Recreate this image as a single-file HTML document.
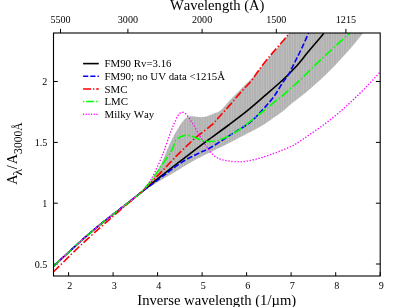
<!DOCTYPE html>
<html><head><meta charset="utf-8"><title>Extinction curves</title>
<style>html,body{margin:0;padding:0;background:#fff;}body{width:395px;height:307px;overflow:hidden;font-family:"Liberation Serif",serif;}</style></head>
<body>
<div style="will-change:transform;width:395px;height:307px">
<svg width="395" height="307" viewBox="0 0 395 307" style="display:block">
<defs><linearGradient id="hg" x1="0" y1="0" x2="1" y2="0"><stop offset="0" stop-color="#ababab"/><stop offset="0.5" stop-color="#c0c0c0"/><stop offset="1" stop-color="#ababab"/></linearGradient><pattern id="hs" width="2.5" height="8" patternUnits="userSpaceOnUse"><rect width="2.5" height="8" fill="url(#hg)"/></pattern>
<clipPath id="cp"><rect x="53.5" y="33.0" width="326.7" height="243.0"/></clipPath></defs>
<rect width="395" height="307" fill="#fff"/>
<g stroke="#000" stroke-width="1" fill="none">
<path d="M68.6 276.0 V272.2"/>
<path d="M113.1 276.0 V272.2"/>
<path d="M157.6 276.0 V272.2"/>
<path d="M202.1 276.0 V272.2"/>
<path d="M246.6 276.0 V272.2"/>
<path d="M291.1 276.0 V272.2"/>
<path d="M335.7 276.0 V272.2"/>
<path d="M380.2 276.0 V272.2"/>
<path d="M60.5 33.0 V28.9"/>
<path d="M127.9 33.0 V28.9"/>
<path d="M202.1 33.0 V28.9"/>
<path d="M276.3 33.0 V28.9"/>
<path d="M345.9 33.0 V28.9"/>
<path d="M53.5 264.0 H57.8"/>
<path d="M380.2 264.0 H375.9"/>
<path d="M53.5 203.2 H57.8"/>
<path d="M380.2 203.2 H375.9"/>
<path d="M53.5 142.4 H57.8"/>
<path d="M380.2 142.4 H375.9"/>
<path d="M53.5 81.5 H57.8"/>
<path d="M380.2 81.5 H375.9"/>
</g>
<g clip-path="url(#cp)" fill="none" stroke-linecap="butt" stroke-linejoin="round">
<path d="M141.00 192.50 C142.67 190.58 147.47 186.17 151.00 181.00 C154.53 175.83 159.42 166.92 162.20 161.50 C164.98 156.08 165.87 152.58 167.70 148.50 C169.53 144.42 171.33 140.58 173.20 137.00 C175.07 133.42 177.32 129.57 178.90 127.00 C180.48 124.43 181.53 123.10 182.70 121.60 C183.87 120.10 184.85 118.85 185.90 118.00 C186.95 117.15 187.73 116.80 189.00 116.50 C190.27 116.20 191.92 116.10 193.50 116.20 C195.08 116.30 196.92 116.95 198.50 117.10 C200.08 117.25 201.42 117.30 203.00 117.10 C204.58 116.90 206.10 116.53 208.00 115.90 C209.90 115.27 212.33 114.18 214.40 113.30 C216.47 112.42 217.67 112.95 220.40 110.60 C223.13 108.25 227.33 102.84 230.80 99.20 C234.28 95.56 237.77 92.23 241.25 88.75 C244.73 85.27 248.81 81.36 251.70 78.30 C254.59 75.24 255.55 74.03 258.60 70.40 C261.65 66.77 265.87 61.40 270.00 56.50 C274.13 51.60 280.15 44.92 283.40 41.00 C286.65 37.08 288.48 34.33 289.50 33.00 L363.20 33.00 C362.67 33.65 362.65 33.72 360.00 36.90 C357.35 40.08 351.55 47.25 347.30 52.10 C343.05 56.95 338.80 61.55 334.50 66.00 C330.20 70.45 325.83 74.77 321.50 78.80 C317.17 82.83 312.08 87.17 308.50 90.20 C304.92 93.23 303.03 94.58 300.00 97.00 C296.97 99.42 293.10 102.37 290.30 104.70 C287.50 107.03 287.33 107.88 283.20 111.00 C279.07 114.12 270.63 120.07 265.50 123.40 C260.37 126.73 255.82 129.12 252.40 131.00 C248.98 132.88 250.40 131.93 245.00 134.70 C239.60 137.47 228.33 143.37 220.00 147.60 C211.67 151.83 201.67 156.55 195.00 160.10 C188.33 163.65 185.83 165.45 180.00 168.90 C174.17 172.35 166.50 176.87 160.00 180.80 C153.50 184.73 144.17 190.55 141.00 192.50 Z" fill="url(#hs)" stroke="none"/>
<path d="M53.50 266.30 C55.42 264.52 61.42 258.92 65.00 255.60 C68.58 252.28 71.67 249.43 75.00 246.40 C78.33 243.37 81.67 240.32 85.00 237.40 C88.33 234.48 91.67 231.68 95.00 228.90 C98.33 226.12 101.67 223.38 105.00 220.70 C108.33 218.02 111.67 215.40 115.00 212.80 C118.33 210.20 121.67 207.68 125.00 205.10 C128.33 202.52 132.33 199.40 135.00 197.30 C137.67 195.20 136.83 195.88 141.00 192.50 C145.17 189.12 153.50 182.18 160.00 177.00 C166.50 171.82 174.17 165.92 180.00 161.40 C185.83 156.88 190.12 153.60 195.00 149.90 C199.88 146.20 203.70 143.35 209.30 139.20 C214.90 135.05 222.20 129.82 228.60 125.00 C235.00 120.18 241.55 115.28 247.70 110.30 C253.85 105.32 259.67 100.15 265.50 95.10 C271.33 90.05 277.72 84.63 282.70 80.00 C287.68 75.37 291.18 71.95 295.40 67.30 C299.62 62.65 303.77 57.17 308.00 52.10 C312.23 47.03 318.17 40.08 320.80 36.90 C323.43 33.72 323.30 33.65 323.80 33.00" stroke="#000" stroke-width="1.6"/>
<path d="M53.50 266.30 C55.42 264.52 61.42 258.92 65.00 255.60 C68.58 252.28 71.67 249.43 75.00 246.40 C78.33 243.37 81.67 240.32 85.00 237.40 C88.33 234.48 91.67 231.68 95.00 228.90 C98.33 226.12 101.67 223.38 105.00 220.70 C108.33 218.02 111.67 215.40 115.00 212.80 C118.33 210.20 121.67 207.68 125.00 205.10 C128.33 202.52 132.33 199.40 135.00 197.30 C137.67 195.20 136.83 195.67 141.00 192.50 C145.17 189.33 154.83 182.18 160.00 178.30 C165.17 174.42 167.83 172.22 172.00 169.20 C176.17 166.18 180.58 162.83 185.00 160.20 C189.42 157.57 194.00 155.65 198.50 153.40 C203.00 151.15 206.25 150.05 212.00 146.70 C217.75 143.35 227.05 137.05 233.00 133.30 C238.95 129.55 243.77 127.03 247.70 124.20 C251.63 121.37 253.63 119.23 256.60 116.30 C259.57 113.37 262.55 109.98 265.50 106.60 C268.45 103.22 271.43 100.00 274.30 96.00 C277.17 92.00 280.25 86.32 282.70 82.60 C285.15 78.88 286.88 77.30 289.00 73.70 C291.12 70.10 293.28 65.23 295.40 61.00 C297.52 56.77 299.50 52.97 301.70 48.30 C303.90 43.63 307.45 35.55 308.60 33.00" stroke="#0000ff" stroke-width="1.6" stroke-dasharray="5.6 2.2"/>
<path d="M53.50 271.80 C55.42 269.92 60.42 264.97 65.00 260.50 C69.58 256.03 75.25 250.38 81.00 245.00 C86.75 239.62 94.13 233.00 99.50 228.20 C104.87 223.40 108.95 219.90 113.20 216.20 C117.45 212.50 121.37 209.10 125.00 206.00 C128.63 202.90 132.33 199.85 135.00 197.60 C137.67 195.35 138.08 195.27 141.00 192.50 C143.92 189.73 149.38 184.15 152.50 181.00 C155.62 177.85 157.17 176.23 159.70 173.60 C162.23 170.97 164.98 168.07 167.70 165.20 C170.42 162.33 173.12 159.33 176.00 156.40 C178.88 153.47 181.52 150.90 185.00 147.60 C188.48 144.30 192.48 140.33 196.90 136.60 C201.32 132.87 207.65 128.63 211.50 125.20 C215.35 121.77 216.92 119.38 220.00 116.00 C223.08 112.62 226.57 108.83 230.00 104.90 C233.43 100.97 237.05 96.40 240.60 92.40 C244.15 88.40 248.30 84.57 251.30 80.90 C254.30 77.23 255.48 74.57 258.60 70.40 C261.72 66.23 265.87 60.88 270.00 55.90 C274.13 50.92 280.15 44.32 283.40 40.50 C286.65 36.68 288.48 34.25 289.50 33.00" stroke="#ff0000" stroke-width="1.6" stroke-dasharray="8.2 2.2 1.4 2.2"/>
<path d="M53.50 266.30 C55.42 264.52 61.42 258.92 65.00 255.60 C68.58 252.28 71.67 249.43 75.00 246.40 C78.33 243.37 81.67 240.32 85.00 237.40 C88.33 234.48 91.67 231.68 95.00 228.90 C98.33 226.12 101.67 223.38 105.00 220.70 C108.33 218.02 111.67 215.40 115.00 212.80 C118.33 210.20 121.67 207.68 125.00 205.10 C128.33 202.52 132.33 199.40 135.00 197.30 C137.67 195.20 138.67 194.80 141.00 192.50 C143.33 190.20 146.40 186.75 149.00 183.50 C151.60 180.25 154.10 176.58 156.60 173.00 C159.10 169.42 161.43 165.83 164.00 162.00 C166.57 158.17 170.00 153.63 172.00 150.00 C174.00 146.37 173.95 142.62 176.00 140.20 C178.05 137.78 181.53 136.10 184.30 135.50 C187.07 134.90 189.37 135.68 192.60 136.60 C195.83 137.52 200.00 140.23 203.70 141.00 C207.40 141.77 211.46 141.65 214.80 141.20 C218.14 140.75 221.22 139.33 223.75 138.30 C226.28 137.27 227.29 136.48 230.00 135.00 C232.71 133.52 237.05 131.33 240.00 129.40 C242.95 127.47 244.93 125.58 247.70 123.40 C250.47 121.22 253.63 118.65 256.60 116.30 C259.57 113.95 262.55 111.65 265.50 109.30 C268.45 106.95 271.35 104.57 274.30 102.20 C277.25 99.83 280.25 97.62 283.20 95.10 C286.15 92.58 289.35 89.47 292.00 87.10 C294.65 84.73 294.30 85.47 299.10 80.90 C303.90 76.33 312.75 67.33 320.80 59.70 C328.85 52.07 342.62 39.55 347.40 35.10 C352.18 30.65 349.15 33.35 349.50 33.00" stroke="#00ff00" stroke-width="1.6" stroke-dasharray="9 2.3 1.4 2.3"/>
<path d="M53.50 266.30 C55.42 264.52 61.42 258.92 65.00 255.60 C68.58 252.28 71.67 249.43 75.00 246.40 C78.33 243.37 81.67 240.32 85.00 237.40 C88.33 234.48 91.67 231.68 95.00 228.90 C98.33 226.12 101.67 223.38 105.00 220.70 C108.33 218.02 111.67 215.40 115.00 212.80 C118.33 210.20 121.67 207.68 125.00 205.10 C128.33 202.52 132.33 199.40 135.00 197.30 C137.67 195.20 138.55 195.13 141.00 192.50 C143.45 189.87 147.10 185.50 149.70 181.50 C152.30 177.50 154.52 172.83 156.60 168.50 C158.68 164.17 160.90 158.58 162.20 155.50 C163.50 152.42 163.35 152.92 164.40 150.00 C165.45 147.08 167.15 141.78 168.50 138.00 C169.85 134.22 171.40 130.03 172.50 127.30 C173.60 124.57 174.25 123.45 175.10 121.60 C175.95 119.75 176.80 117.58 177.60 116.20 C178.40 114.82 179.12 113.95 179.90 113.30 C180.68 112.65 181.45 112.33 182.30 112.30 C183.15 112.27 184.13 112.50 185.00 113.10 C185.87 113.70 186.77 115.02 187.50 115.90 C188.23 116.78 188.83 117.57 189.40 118.40 C189.97 119.23 190.33 120.05 190.90 120.90 C191.47 121.75 192.17 122.55 192.80 123.50 C193.43 124.45 194.02 125.33 194.70 126.60 C195.38 127.87 196.20 129.82 196.90 131.10 C197.60 132.38 198.20 133.15 198.90 134.30 C199.60 135.45 200.08 136.38 201.10 138.00 C202.12 139.62 203.65 141.97 205.00 144.00 C206.35 146.03 207.82 148.37 209.20 150.20 C210.58 152.03 211.92 153.72 213.30 155.00 C214.68 156.28 216.10 157.13 217.50 157.90 C218.90 158.67 219.93 159.10 221.70 159.60 C223.47 160.10 225.68 160.53 228.10 160.90 C230.52 161.27 233.50 161.72 236.20 161.80 C238.90 161.88 241.60 161.70 244.30 161.40 C247.00 161.10 249.70 160.58 252.40 160.00 C255.10 159.42 257.80 158.68 260.50 157.90 C263.20 157.12 265.90 156.23 268.60 155.30 C271.30 154.37 274.00 153.32 276.70 152.30 C279.40 151.28 282.10 150.32 284.80 149.20 C287.50 148.08 290.37 146.93 292.90 145.60 C295.43 144.27 297.20 143.05 300.00 141.20 C302.80 139.35 305.65 137.32 309.70 134.50 C313.75 131.68 319.42 127.95 324.30 124.30 C329.18 120.65 334.10 116.78 339.00 112.60 C343.90 108.42 348.82 103.83 353.70 99.20 C358.58 94.57 364.03 89.17 368.30 84.80 C372.57 80.43 377.18 75.27 379.30 73.00 C381.42 70.73 380.72 71.50 381.00 71.20" stroke="#ff00ff" stroke-width="1.5" stroke-linecap="round" stroke-dasharray="0.01 3.03"/>
</g>
<rect x="53.5" y="33.0" width="326.7" height="243.0" stroke="#000" stroke-width="1.1" fill="none"/>
<g font-family="'Liberation Serif', serif" fill="#000" style="font-kerning:none">
<g font-size="10.1px" text-anchor="middle">
<text x="69.7" y="288.8">2</text>
<text x="114.2" y="288.8">3</text>
<text x="158.7" y="288.8">4</text>
<text x="203.2" y="288.8">5</text>
<text x="247.7" y="288.8">6</text>
<text x="292.2" y="288.8">7</text>
<text x="336.8" y="288.8">8</text>
<text x="381.3" y="288.8">9</text>
<text x="60.5" y="23.2">5500</text>
<text x="127.9" y="23.2">3000</text>
<text x="202.1" y="23.2">2000</text>
<text x="276.3" y="23.2">1500</text>
<text x="345.9" y="23.2">1215</text>
</g><g font-size="10.1px" text-anchor="end">
<text x="47.3" y="267.5">0.5</text>
<text x="47.3" y="206.7">1</text>
<text x="47.3" y="145.9">1.5</text>
<text x="47.3" y="85.0">2</text>
</g>
<text x="217.25" y="9.5" font-size="14.6px" text-anchor="middle">Wavelength (A)</text>
<text x="216.75" y="305.0" font-size="14.65px" text-anchor="middle">Inverse wavelength (1/µm)</text>
<text transform="translate(17.40 184.80) rotate(-90)" font-size="14.3px">A</text>
<text transform="translate(21.70 175.40) rotate(-90)" font-size="12px" textLength="6.7" lengthAdjust="spacingAndGlyphs">λ</text>
<text transform="translate(17.40 169.30) rotate(-90)" font-size="14.6px">/</text>
<text transform="translate(17.40 164.20) rotate(-90)" font-size="14.3px">A</text>
<text transform="translate(21.70 153.90) rotate(-90)" font-size="11.6px">3000Å</text>
<path d="M83.1 63.60 H98.8" stroke="#000" stroke-width="1.6" fill="none"/>
<text x="104.5" y="67.35" font-size="10.85px">FM90 Rv=3.16</text>
<path d="M83.1 76.27 H98.8" stroke="#0000ff" stroke-width="1.5" fill="none" stroke-dasharray="5.2 2" stroke-dashoffset="0"/>
<text x="104.5" y="80.02" font-size="10.85px">FM90; no UV data &lt;1215Å</text>
<path d="M83.1 88.94 H98.8" stroke="#ff0000" stroke-width="1.5" fill="none" stroke-dasharray="8 1.9 1.3 1.9" stroke-dashoffset="0"/>
<text x="104.5" y="92.69" font-size="10.85px">SMC</text>
<path d="M83.1 101.60 H98.8" stroke="#00ff00" stroke-width="1.5" fill="none" stroke-dasharray="8 1.9 1.3 1.9" stroke-dashoffset="10.0"/>
<text x="104.5" y="105.35" font-size="10.85px">LMC</text>
<path d="M83.6 114.30 H97.2" stroke="#ff00ff" stroke-width="1.5" fill="none" stroke-dasharray="0.01 2.65" stroke-dashoffset="0" stroke-linecap="round"/>
<text x="104.5" y="118.05" font-size="10.85px">Milky Way</text>
</g></svg>
</div>
</body></html>
